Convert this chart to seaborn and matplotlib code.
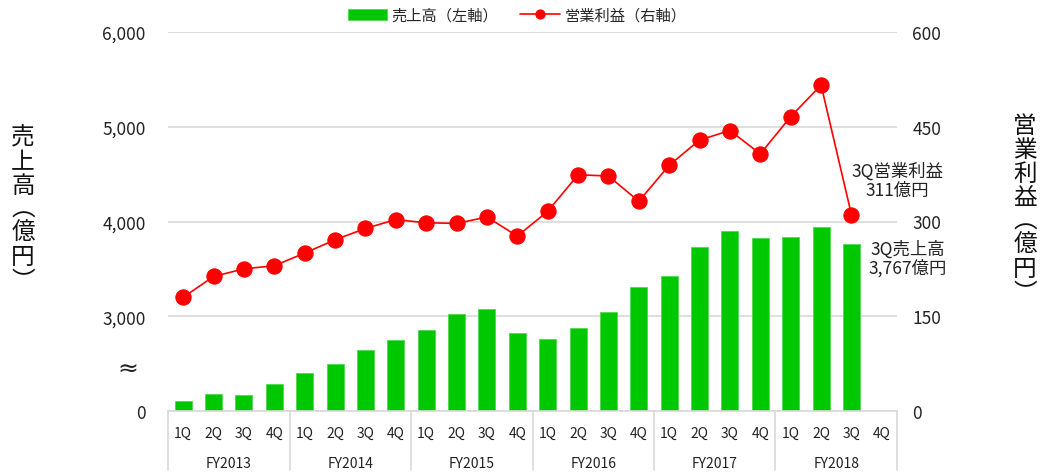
import matplotlib
matplotlib.use('Agg')
import matplotlib.pyplot as plt
import matplotlib.transforms as mtransforms
import pandas as pd
import seaborn as sns

# データ（億円）
years = ['FY2013', 'FY2014', 'FY2015', 'FY2016', 'FY2017', 'FY2018']
quarters = ['1Q', '2Q', '3Q', '4Q']
sales = [2109, 2179, 2169, 2282,
         2401, 2493, 2644, 2746,
         2852, 3020, 3080, 2826,
         2760, 2876, 3041, 3309,
         3428, 3728, 3900, 3823,
         3836, 3939, 3767]
op_income = [180, 213, 225, 230,
             250, 271, 289, 303,
             298, 297, 307, 277,
             316, 374, 372, 332,
             389, 429, 444, 407,
             466, 516, 311]
left_ticks = [2000, 3000, 4000, 5000, 6000]
left_labels = ['0', '3,000', '4,000', '5,000', '6,000']
right_ticks = [0, 150, 300, 450, 600]

df = pd.DataFrame({'pos': range(len(sales)), 'sales': sales, 'op': op_income})

sns.set_style('white')
plt.rcParams['font.family'] = ['Noto Sans CJK JP', 'DejaVu Sans']

fig = plt.figure(figsize=(10.4, 4.77), dpi=100)
ax = fig.add_axes([168 / 1040, 1 - 412 / 477, 729 / 1040, 379 / 477])

green = '#00C800'
red = '#FF0000'
grid_c = '#D9D9D9'

sns.barplot(data=df, x='pos', y='sales', order=list(range(24)), color=green,
            saturation=1, width=0.56, edgecolor='#4FDA4F', linewidth=0.6,
            label='売上高（左軸）', ax=ax, zorder=2)
ax.set_ylim(2000, 6000)
ax.set_xlim(-0.5, 23.5)
ax.set_yticks(left_ticks)
ax.set_yticklabels(left_labels)
ax.yaxis.grid(True, color=grid_c, linewidth=1.2, zorder=0)
ax.set_axisbelow(True)
ax.tick_params(axis='y', length=0, pad=16, labelsize=12.5, labelcolor='#222222')
ax.set_xticks([])
ax.set_xlabel('')
ax.set_ylabel('')
for s in ['top', 'left', 'right']:
    ax.spines[s].set_visible(False)
ax.spines['bottom'].set_color(grid_c)
ax.spines['bottom'].set_linewidth(1.2)

ax2 = ax.twinx()
sns.lineplot(data=df, x='pos', y='op', color=red, marker='o', markersize=11,
             markeredgecolor=red, linewidth=1.2, label='営業利益（右軸）', ax=ax2)
ax2.set_ylim(0, 600)
ax2.set_xlim(-0.5, 23.5)
ax2.set_yticks(right_ticks)
ax2.tick_params(axis='y', length=0, pad=11, labelsize=12.5, labelcolor='#222222')
ax2.set_ylabel('')
ax2.set_xlabel('')
for s in ax2.spines.values():
    s.set_visible(False)

# 凡例
h1, l1 = ax.get_legend_handles_labels()
h2, l2 = ax2.get_legend_handles_labels()
if ax.get_legend():
    ax.get_legend().remove()
ax2.get_legend().remove()
fig.legend(h1 + h2, l1 + l2, loc='center', bbox_to_anchor=(0.497, 1 - 16 / 477),
           ncol=2, frameon=False, fontsize=11, handlelength=2.6, columnspacing=1.4,
           handletextpad=0.3, markerscale=0.6)

# 横軸の二段ラベル
trans = mtransforms.blended_transform_factory(ax.transData, ax.transAxes)
for i in range(24):
    ax.text(i, -0.058, quarters[i % 4], transform=trans, ha='center', va='center',
            fontsize=10, color='#222222')
for j, y in enumerate(years):
    ax.text(j * 4 + 1.5, -0.137, y, transform=trans, ha='center', va='center',
            fontsize=10, color='#222222')
for k in range(7):
    ax.plot([k * 4 - 0.5, k * 4 - 0.5], [0, -0.155], transform=trans, color=grid_c,
            linewidth=1.2, clip_on=False)

# 軸タイトル（縦書き）
fig.text(23 / 1040, 1 - 210 / 477, '売\n上\n高\n︵\n億\n円\n︶', ha='center', va='center',
         fontsize=17, linespacing=1.05, color='#111111')
fig.text(1025 / 1040, 1 - 210 / 477, '営\n業\n利\n益\n︵\n億\n円\n︶', ha='center', va='center',
         fontsize=17, linespacing=1.05, color='#111111')

# 省略記号
ax.text(-0.055, 0.111, '≈', transform=ax.transAxes, ha='center', va='center',
        fontsize=18, color='#222222', family='DejaVu Sans')

# 注記
fig.text(897 / 1040, 1 - 181 / 477, '3Q営業利益\n311億円', ha='center', va='center',
         fontsize=12.5, linespacing=1.05, color='#222222')
fig.text(908 / 1040, 1 - 259 / 477, '3Q売上高\n3,767億円', ha='center', va='center',
         fontsize=12.5, linespacing=1.05, color='#222222')

fig.savefig('out.png', dpi=100)
